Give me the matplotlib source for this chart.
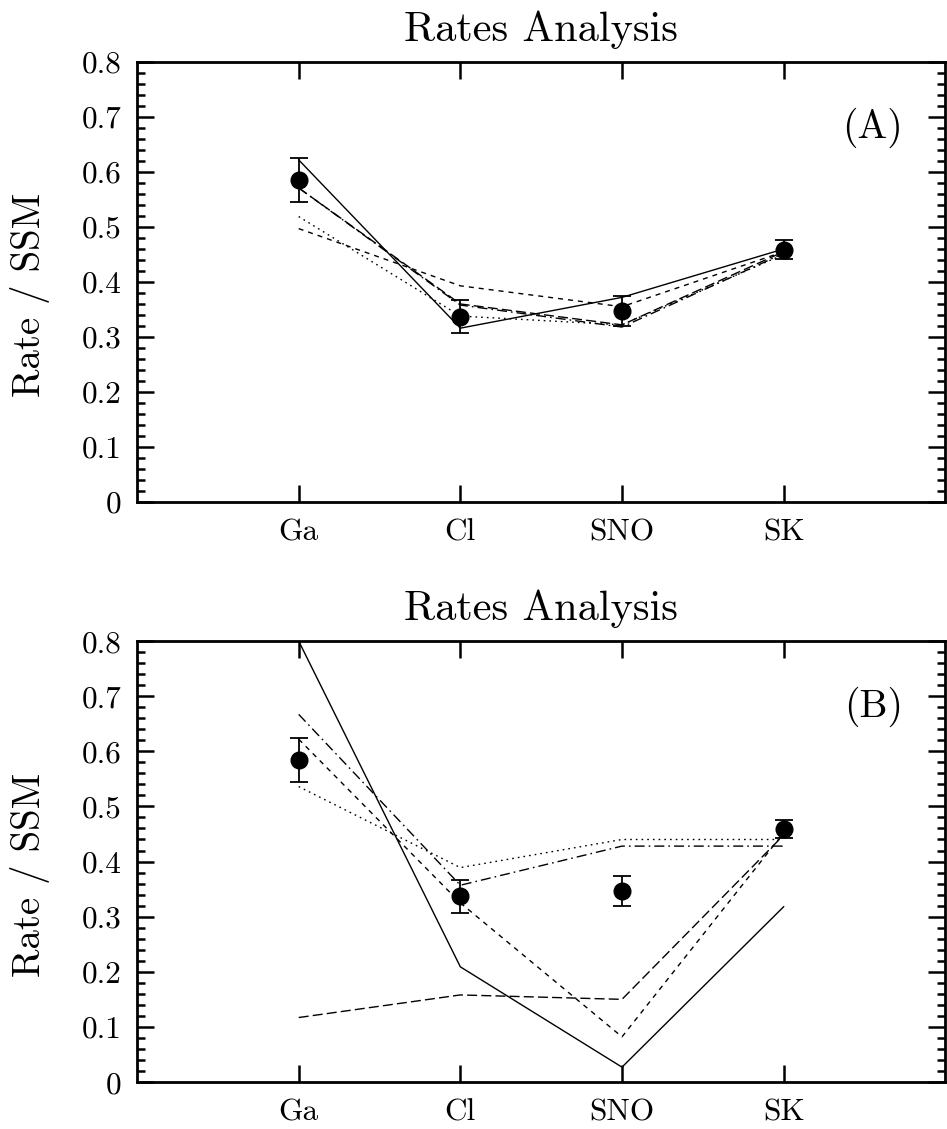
#! /usr/bin/env python

import matplotlib
matplotlib.use('Agg')
import matplotlib.pyplot as plt
import matplotlib as mpl
from matplotlib.ticker import MultipleLocator

# experiments on the x axis
experiments = ['Ga', 'Cl', 'SNO', 'SK']
xpos = [1, 2, 3, 4]

# measured rates / SSM with errors
data_rate = [0.585, 0.337, 0.347, 0.459]
data_err = [0.040, 0.030, 0.027, 0.017]

# panel (A) fits
a_solid = [0.622, 0.316, 0.372, 0.460]
a_longdash = [0.571, 0.360, 0.322, 0.455]
a_shortdash = [0.497, 0.393, 0.355, 0.455]
a_dotted = [0.519, 0.338, 0.322, 0.450]
a_dashdot = [0.571, 0.358, 0.318, 0.452]

# panel (B) fits
b_solid = [0.800, 0.209, 0.027, 0.318]
b_longdash = [0.117, 0.158, 0.150, 0.448]
b_shortdash = [0.622, 0.325, 0.082, 0.452]
b_dotted = [0.536, 0.389, 0.440, 0.440]
b_dashdot = [0.667, 0.357, 0.428, 0.428]

yticks = [0, 0.1, 0.2, 0.3, 0.4, 0.5, 0.6, 0.7, 0.8]
ytick_labels = ['0', '0.1', '0.2', '0.3', '0.4', '0.5', '0.6', '0.7', '0.8']

styles = {
    'solid': {'color': 'black', 'linestyle': '-'},
    'longdash': {'color': 'black', 'linestyle': (0, (7.2, 3.0))},
    'shortdash': {'color': 'black', 'linestyle': (0, (3.6, 3.6))},
    'dotted': {'color': 'black', 'linestyle': (0, (1.2, 2.9))},
    'dashdot': {'color': 'black', 'linestyle': (0, (7.2, 2.9, 1.2, 2.9))},
}


def init():
    mpl.rc('font', family='cmr10', size=22.5)
    mpl.rc('lines', linewidth=1.0, scale_dashes=False)
    mpl.rc('axes', linewidth=2.0, unicode_minus=False)
    mpl.rcParams['axes.formatter.use_mathtext'] = True
    fig = plt.figure(figsize=(9.47, 11.29), dpi=100)
    ax1 = fig.add_axes([0.1447, 0.5554, 0.8535, 0.3897])
    ax2 = fig.add_axes([0.1447, 0.0416, 0.8535, 0.3906])
    return fig, ax1, ax2


def setup(ax, label):
    ax.set_xlim(0, 5)
    ax.set_ylim(0, 0.8)
    ax.set_xticks(xpos)
    ax.set_xticklabels(experiments)
    ax.set_yticks(yticks)
    ax.set_yticklabels(ytick_labels)
    ax.yaxis.set_minor_locator(MultipleLocator(0.02))
    ax.tick_params(which='both', direction='in', top=True, right=True, width=1.8)
    ax.tick_params(which='major', length=12)
    ax.tick_params(which='minor', length=6)
    ax.tick_params(axis='y', pad=11)
    ax.tick_params(axis='x', pad=12)
    ax.set_title('Rates Analysis', fontsize=30.5, pad=15)
    ax.set_ylabel('Rate / SSM', fontsize=28)
    ax.yaxis.set_label_coords(-0.108, 0.47)
    ax.text(0.948, 0.85, label, transform=ax.transAxes, fontsize=28.5,
            ha='right', va='center')


def plot():
    fig, ax1, ax2 = init()

    for ax, lines, label in [
        (ax1, [a_solid, a_longdash, a_shortdash, a_dotted, a_dashdot], '(A)'),
        (ax2, [b_solid, b_longdash, b_shortdash, b_dotted, b_dashdot], '(B)'),
    ]:
        setup(ax, label)
        for name, y in zip(['solid', 'longdash', 'shortdash', 'dotted', 'dashdot'], lines):
            ax.plot(xpos, y, zorder=2, **styles[name])
        ax.errorbar(xpos, data_rate, yerr=data_err, fmt='o', color='black',
                    markersize=12, capsize=6.5, elinewidth=1.3, capthick=1.3,
                    zorder=3)

    plt.savefig('out.png', dpi=100)


if __name__ == '__main__':
    plot()
